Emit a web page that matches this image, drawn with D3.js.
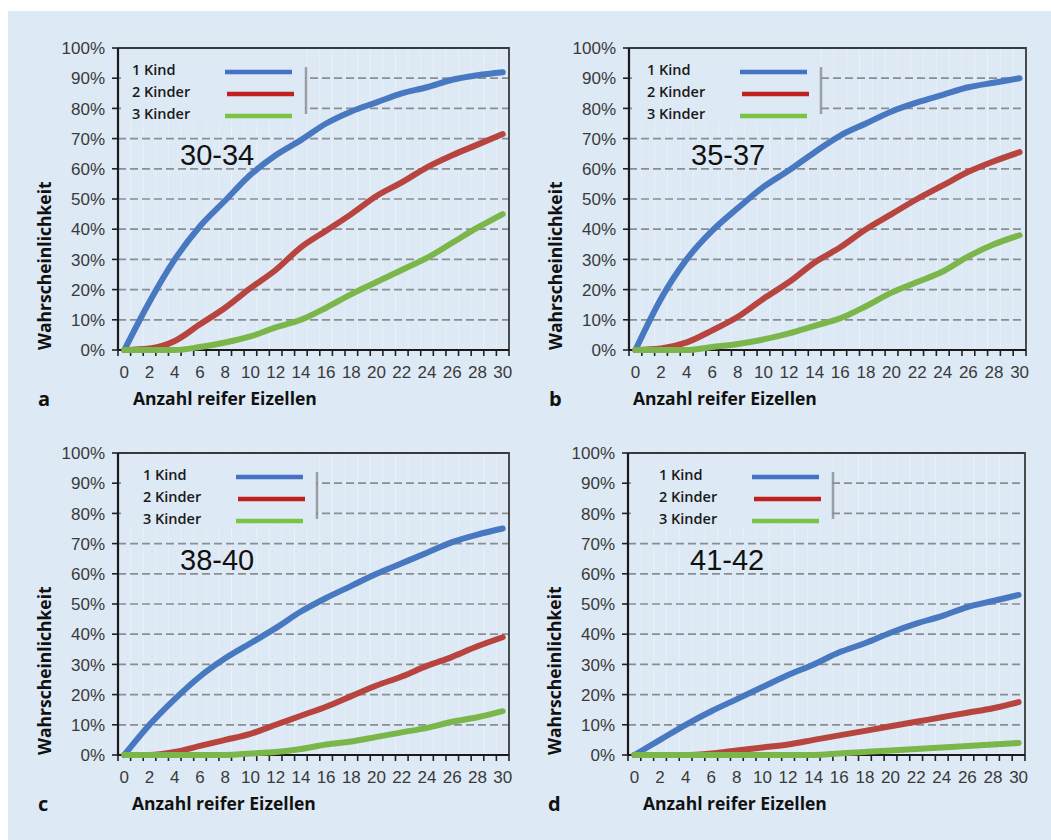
<!DOCTYPE html>
<html lang="de">
<head>
<meta charset="utf-8">
<title>Wahrscheinlichkeit nach Anzahl reifer Eizellen</title>
<script src="https://d3js.org/d3.v7.min.js"></script>
<style>
  body { margin: 0; background: #fff; }
  .tick-label { font-family: "Liberation Sans", Arial, sans-serif; font-size: 17px; fill: #3a3a3a; }
  .legend-label { font-family: "Open Sans", sans-serif; font-size: 14.5px; font-weight: 600; fill: #1a1a1a; }
  .axis-title { font-family: "Open Sans", sans-serif; font-size: 17.5px; font-weight: 700; fill: #111; }
  .age-label { font-family: "Liberation Sans", Arial, sans-serif; font-size: 29px; fill: #111; }
</style>
</head>
<body>
<script>

// x: Anzahl reifer Eizellen (values read every 2 eggs)
var eggs = [0, 2, 4, 6, 8, 10, 12, 14, 16, 18, 20, 22, 24, 26, 28, 30];
var yTicks = [0, 10, 20, 30, 40, 50, 60, 70, 80, 90, 100];
var seriesNames = ["1 Kind", "2 Kinder", "3 Kinder"];
var ageGroups = ["30-34", "35-37", "38-40", "41-42"];
var panelLetters = ["a", "b", "c", "d"];

// Wahrscheinlichkeit in %
var kind1_3034 = [0, 16, 30, 41, 49.5, 58, 64.5, 69.5, 75, 79, 82, 85, 87, 89.5, 91, 92];
var kind2_3034 = [0, 0.5, 3, 8.5, 14, 20.5, 26.5, 34, 39.5, 45, 51, 55.5, 60.5, 64.5, 68, 71.5];
var kind3_3034 = [0, 0, 0, 1, 2.5, 4.5, 7.5, 10, 14, 18.5, 22.5, 26.5, 30.5, 35.5, 40.5, 45];

var kind1_3537 = [0, 17, 30, 39.5, 47, 54, 59.5, 65.5, 71, 75, 79, 82, 84.5, 87, 88.5, 90];
var kind2_3537 = [0, 0.5, 2.5, 6.5, 11, 17, 22.5, 29, 34, 40, 45, 50, 54.5, 59, 62.5, 65.5];
var kind3_3537 = [0, 0, 0, 1, 2, 3.5, 5.5, 8, 10.5, 14.5, 19, 22.5, 26, 31, 35, 38];

var kind1_3840 = [0, 10, 18.5, 26, 32, 37, 42, 47.5, 52, 56, 60, 63.5, 67, 70.5, 73, 75];
var kind2_3840 = [0, 0, 1, 3, 5, 7, 10, 13, 16, 19.5, 23, 26, 29.5, 32.5, 36, 39];
var kind3_3840 = [0, 0, 0, 0, 0, 0.5, 1, 2, 3.5, 4.5, 6, 7.5, 9, 11, 12.5, 14.5];

var kind1_4142 = [0, 5, 10, 14.5, 18.5, 22.5, 26.5, 30, 34, 37, 40.5, 43.5, 46, 49, 51, 53];
var kind2_4142 = [0, 0, 0, 0.5, 1.5, 2.5, 3.5, 5, 6.5, 8, 9.5, 11, 12.5, 14, 15.5, 17.5];
var kind3_4142 = [0, 0, 0, 0, 0, 0, 0, 0, 0.5, 1, 1.5, 2, 2.5, 3, 3.5, 4];

var panelSeries = [
  [kind1_3034, kind2_3034, kind3_3034],
  [kind1_3537, kind2_3537, kind3_3537],
  [kind1_3840, kind2_3840, kind3_3840],
  [kind1_4142, kind2_4142, kind3_4142]
];

var lineColors = ["#4778c0", "#b8443f", "#7bb64a"];
var legendColors = ["#4472c4", "#c0201e", "#7cc244"];

// plot boxes of the four panels
var panels = [
  { left: 118, right: 509,  top: 48,  bottom: 350, legendDx: 0,  titleDx: 15 },
  { left: 629, right: 1026, top: 48,  bottom: 350, legendDx: 4,  titleDx: 4 },
  { left: 118, right: 509,  top: 453, bottom: 755, legendDx: 11, titleDx: 14 },
  { left: 628, right: 1025, top: 453, bottom: 755, legendDx: 17, titleDx: 15 }
];

var width = 1051, height = 840;

var svg = d3.select("body").append("svg")
  .attr("width", width)
  .attr("height", height);

svg.append("rect")
  .attr("x", 8).attr("y", 11)
  .attr("width", width - 8).attr("height", height - 11)
  .attr("fill", "#dde9f4");

panels.forEach(function(p, pi) {
  var g = svg.append("g");

  var xScale = d3.scaleBand()
    .domain(d3.range(0, 31))
    .range([p.left, p.right]);

  var yScale = d3.scaleLinear()
    .domain([0, 100])
    .range([p.bottom, p.top]);

  var xc = function(v) { return xScale(v) + xScale.bandwidth() / 2; };

  // faint vertical lines at the category boundaries
  g.selectAll(".vgrid")
    .data(d3.range(1, 31))
    .enter().append("line")
    .attr("x1", function(d) { return xScale(d); })
    .attr("x2", function(d) { return xScale(d); })
    .attr("y1", p.top).attr("y2", p.bottom)
    .attr("stroke", "#e9f0f8")
    .attr("stroke-width", 1);

  // dashed horizontal grid
  g.selectAll(".hgrid")
    .data(yTicks.filter(function(d) { return d > 0 && d < 100; }))
    .enter().append("line")
    .attr("x1", p.left).attr("x2", p.right)
    .attr("y1", function(d) { return yScale(d); })
    .attr("y2", function(d) { return yScale(d); })
    .attr("stroke", "#8a8d92")
    .attr("stroke-width", 1.7)
    .attr("stroke-dasharray", "8,4");

  // legend box covering the grid
  var lx = p.left + p.legendDx;
  g.append("rect")
    .attr("x", p.left + 3).attr("y", p.top + 2)
    .attr("width", lx + 187 - p.left - 3).attr("height", 72)
    .attr("fill", "#dde9f4");
  g.append("line")
    .attr("x1", lx + 188).attr("x2", lx + 188)
    .attr("y1", p.top + 19).attr("y2", p.top + 66)
    .attr("stroke", "#8a8d92")
    .attr("stroke-width", 2.5)
    .attr("opacity", 0.8);

  seriesNames.forEach(function(name, si) {
    var ty = p.top + 22 + si * 22;
    g.append("text")
      .attr("class", "legend-label")
      .attr("x", lx + 14)
      .attr("y", ty)
      .attr("dy", "0.35em")
      .text(name);
    g.append("line")
      .attr("x1", lx + 107 + (si === 1 ? 2 : 0)).attr("x2", lx + 174 + (si === 1 ? 2 : 0))
      .attr("y1", ty + 2).attr("y2", ty + 2)
      .attr("stroke", legendColors[si])
      .attr("stroke-width", 4.5);
  });

  // y axis ticks and labels
  g.selectAll(".ytick")
    .data(yTicks)
    .enter().append("line")
    .attr("x1", p.left - 6).attr("x2", p.left)
    .attr("y1", function(d) { return yScale(d); })
    .attr("y2", function(d) { return yScale(d); })
    .attr("stroke", "#222")
    .attr("stroke-width", 1.6);

  g.selectAll(".ylab")
    .data(yTicks)
    .enter().append("text")
    .attr("class", "tick-label")
    .attr("x", p.left - 13)
    .attr("y", function(d) { return yScale(d); })
    .attr("dy", "0.36em")
    .attr("text-anchor", "end")
    .text(function(d) { return d + "%"; });

  // x axis ticks between categories, labels on even values
  g.selectAll(".xtick")
    .data(d3.range(0, 32))
    .enter().append("line")
    .attr("x1", function(d) { return d === 31 ? p.right : xScale(d); })
    .attr("x2", function(d) { return d === 31 ? p.right : xScale(d); })
    .attr("y1", p.bottom).attr("y2", p.bottom + 6)
    .attr("stroke", "#222")
    .attr("stroke-width", 1.6);

  g.selectAll(".xlab")
    .data(d3.range(0, 31, 2))
    .enter().append("text")
    .attr("class", "tick-label")
    .attr("x", function(d) { return xc(d); })
    .attr("y", p.bottom + 28)
    .attr("text-anchor", "middle")
    .text(function(d) { return d; });

  // frame
  g.append("path")
    .attr("d", "M" + p.left + "," + p.top + "H" + p.right + "V" + p.bottom)
    .attr("fill", "none")
    .attr("stroke", "#3a3a3a")
    .attr("stroke-width", 1.8);
  g.append("path")
    .attr("d", "M" + p.left + "," + p.top + "V" + p.bottom + "H" + p.right)
    .attr("fill", "none")
    .attr("stroke", "#1a1a1a")
    .attr("stroke-width", 2.2);

  // age group label
  g.append("text")
    .attr("class", "age-label")
    .attr("x", p.left + 62)
    .attr("y", p.top + 117)
    .text(ageGroups[pi]);

  // data lines
  var line = d3.line()
    .x(function(d, i) { return xc(eggs[i]); })
    .y(function(d) { return yScale(d); })
    .curve(d3.curveMonotoneX);

  panelSeries[pi].forEach(function(values, si) {
    g.append("path")
      .datum(values)
      .attr("d", line)
      .attr("fill", "none")
      .attr("stroke", lineColors[si])
      .attr("stroke-width", 6)
      .attr("stroke-linecap", "round")
      .attr("stroke-linejoin", "round");
  });

  // axis titles and panel letter
  g.append("text")
    .attr("class", "axis-title")
    .attr("transform", "translate(" + (p.left - 67) + "," + p.bottom + ") rotate(-90)")
    .attr("text-anchor", "start")
    .text("Wahrscheinlichkeit");

  g.append("text")
    .attr("class", "axis-title")
    .attr("x", p.left + p.titleDx)
    .attr("y", p.bottom + 55)
    .text("Anzahl reifer Eizellen");

  g.append("text")
    .attr("class", "axis-title")
    .style("font-size", "20px")
    .attr("x", p.left - 80)
    .attr("y", p.bottom + 56)
    .text(panelLetters[pi]);
});

</script>
</body>
</html>
